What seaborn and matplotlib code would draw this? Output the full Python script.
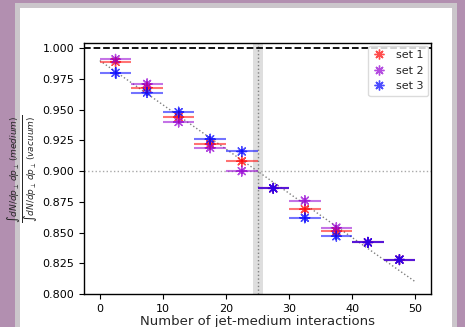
import numpy as np
import pandas as pd
import matplotlib
matplotlib.use("Agg")
import matplotlib.pyplot as plt
import seaborn as sns
from matplotlib.patches import Rectangle

x_centers = [2.5, 7.5, 12.5, 17.5, 22.5, 27.5, 32.5, 37.5, 42.5, 47.5]
set1 = [0.989, 0.968, 0.944, 0.922, 0.908, 0.886, 0.869, 0.851, 0.842, 0.828]
set2 = [0.991, 0.971, 0.940, 0.919, 0.900, 0.886, 0.876, 0.854, 0.842, 0.828]
set3 = [0.980, 0.964, 0.948, 0.926, 0.916, 0.886, 0.862, 0.847, 0.842, 0.828]
yerr1 = [0.002, 0.002, 0.002, 0.002, 0.002, 0.002, 0.002, 0.002, 0.002, 0.002]
yerr2 = [0.002, 0.002, 0.002, 0.002, 0.002, 0.002, 0.002, 0.002, 0.002, 0.002]
yerr3 = [0.005, 0.003, 0.003, 0.003, 0.002, 0.003, 0.003, 0.003, 0.003, 0.003]
labels = ["set 1", "set 2", "set 3"]
colors = ["red", "darkviolet", "blue"]
fit_x = [0, 50]
fit_y = [0.99, 0.81]

sns.set_style("white")
fig = plt.figure(figsize=(4.65, 3.27), dpi=100)
fig.patch.set_facecolor("#b28fb0")
# card border and card
fig.patches.append(Rectangle((15/465, 0), (457-15)/465, (327-3)/327, transform=fig.transFigure,
                             facecolor="#cbc6cb", edgecolor="none", zorder=-2))
fig.patches.append(Rectangle((20/465, 0), (452-20)/465, (327-8)/327, transform=fig.transFigure,
                             facecolor="white", edgecolor="none", zorder=-1))

ax = fig.add_axes([84/465, 33/327, (431-84)/465, (294-43)/327])
ax.set_zorder(5)
ax.set_facecolor("white")

rows = []
for lab, vals in zip(labels, [set1, set2, set3]):
    for xc, v in zip(x_centers, vals):
        rows.append({"x": xc, "y": v, "set": lab})
df = pd.DataFrame(rows)

for lab, vals, ye, c in zip(labels, [set1, set2, set3], [yerr1, yerr2, yerr3], colors):
    ax.errorbar(x_centers, vals, xerr=2.5, yerr=ye, fmt="none", ecolor=c, alpha=0.55, elinewidth=1.5, zorder=3)

sns.scatterplot(data=df, x="x", y="y", hue="set", palette=colors, marker=(8, 2, 0), s=50,
                linewidth=1.0, alpha=0.7, ax=ax, zorder=4)

ax.plot(fit_x, fit_y, color="gray", linestyle=":", linewidth=1, zorder=2)
ax.axhline(1.0, color="black", linestyle="--", linewidth=1.3, zorder=2)
ax.axhline(0.9, color="darkgray", linestyle=":", linewidth=1, zorder=1)
ax.axvline(25.1, color="gray", linestyle=":", linewidth=1, zorder=1)
ax.axvspan(24.25, 25.95, color="#dedede", linewidth=0, zorder=0)

ax.set_xlim(-2.5, 52.5)
ax.set_ylim(0.8, 1.0043)
ax.set_xticks([0, 10, 20, 30, 40, 50])
ax.set_yticks([0.8, 0.825, 0.85, 0.875, 0.9, 0.925, 0.95, 0.975, 1.0])
ax.yaxis.set_major_formatter(matplotlib.ticker.FormatStrFormatter("%.3f"))
ax.tick_params(axis="both", labelsize=8, direction="out", length=3.5, width=0.8, left=True, bottom=True, colors="black")
for s in ax.spines.values():
    s.set_color("black")
    s.set_linewidth(1)

ax.set_xlabel("Number of jet-medium interactions", fontsize=9.5, labelpad=1)
ax.set_ylabel(r"$\frac{\int dN/dp_\perp\, dp_\perp\, (medium)}{\int dN/dp_\perp\, dp_\perp\, (vacuum)}$",
              fontsize=9.3)
ax.yaxis.set_label_coords(-0.127, 0.5)

leg = ax.legend(loc="upper right", fontsize=8, frameon=True, handletextpad=0.9, handlelength=1.2,
                borderaxespad=0.25, labelspacing=0.5)
leg.get_frame().set_edgecolor("lightgray")
for h in leg.legend_handles:
    h.set_alpha(0.7)

fig.savefig("out.png", dpi=100, facecolor=fig.get_facecolor())
